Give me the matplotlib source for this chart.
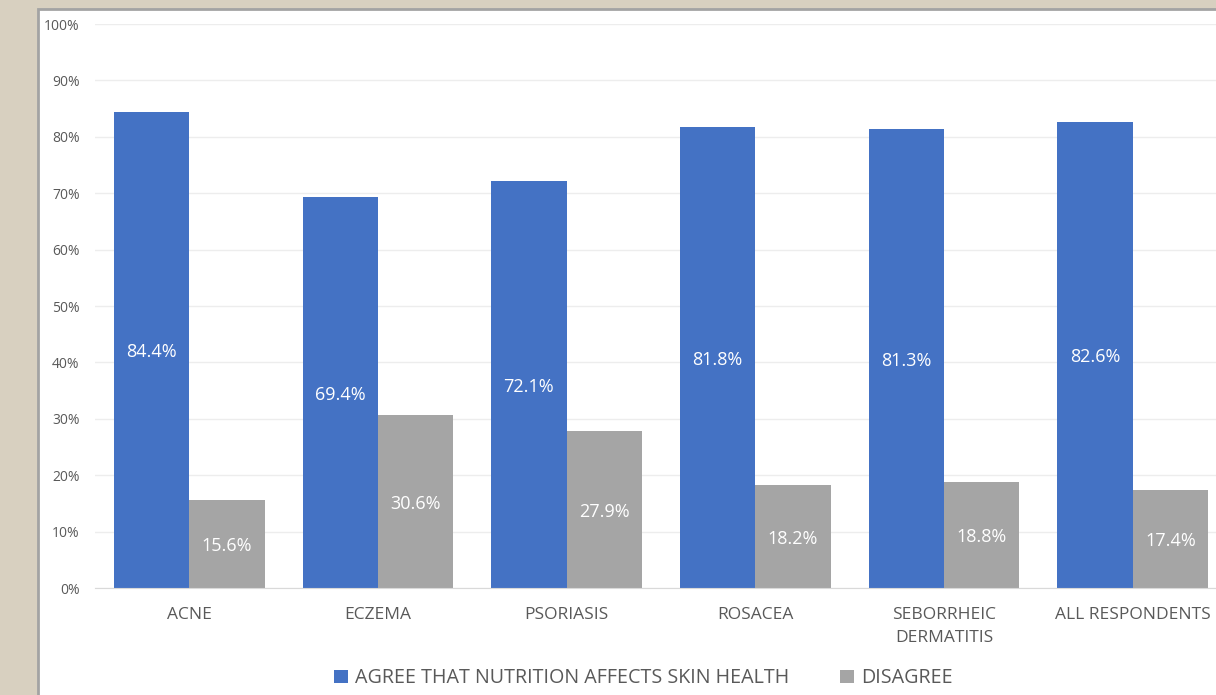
import matplotlib.pyplot as plt
import matplotlib.patches as mpatches
import numpy as np

categories = ["ACNE", "ECZEMA", "PSORIASIS", "ROSACEA", "SEBORRHEIC\nDERMATITIS", "ALL RESPONDENTS"]
agree = [84.4, 69.4, 72.1, 81.8, 81.3, 82.6]
disagree = [15.6, 30.6, 27.9, 18.2, 18.8, 17.4]
series_names = ["AGREE THAT NUTRITION AFFECTS SKIN HEALTH", "DISAGREE"]
yticks = [0, 10, 20, 30, 40, 50, 60, 70, 80, 90, 100]

blue = "#4472C4"
grey = "#A5A5A5"
txt = "#595959"

plt.rcParams['font.family'] = ['Open Sans', 'DejaVu Sans']

fig = plt.figure(figsize=(12.16, 6.95), dpi=100)
fig.patch.set_facecolor("#D8D0C0")

# white panel with grey frame (left and top visible)
panel = mpatches.Rectangle((37.5 / 1216, -0.1), 1.2, 1.1 - 8.5 / 695,
                           transform=fig.transFigure, facecolor="white",
                           edgecolor="#A3A3A3", linewidth=2, zorder=-10)
fig.patches.append(panel)

ax = fig.add_axes([95 / 1216, 107 / 695, 1132 / 1216, 564 / 695])
ax.set_facecolor("none")

x = np.arange(len(categories))
w = 0.4
b1 = ax.bar(x - w / 2, agree, w, color=blue, label=series_names[0], zorder=3)
b2 = ax.bar(x + w / 2, disagree, w, color=grey, label=series_names[1], zorder=3)

for bars, vals in ((b1, agree), (b2, disagree)):
    for r, v in zip(bars, vals):
        ax.text(r.get_x() + r.get_width() / 2, v / 2 - 0.4, f"{v:.1f}%",
                ha="center", va="center", color="white", fontsize=13, zorder=4)

ax.set_xlim(-0.5, len(categories) - 0.5)
ax.set_ylim(0, 100)
ax.set_yticks(yticks)
ax.set_yticklabels([f"{t}%" for t in yticks], color=txt, fontsize=10)
ax.set_xticks(x)
ax.set_xticklabels(categories, color=txt, fontsize=12.5, linespacing=1.55)
ax.tick_params(axis="both", length=0)
ax.tick_params(axis="y", pad=11)
ax.tick_params(axis="x", pad=14)
ax.yaxis.grid(True, color="#EDEDED", linewidth=1, zorder=0)
for s in ["top", "right", "left"]:
    ax.spines[s].set_visible(False)
ax.spines["bottom"].set_color("#D9D9D9")
ax.spines["bottom"].set_zorder(5)

leg = fig.legend(handles=[b1, b2], loc="center", bbox_to_anchor=(0.529, 0.024),
                 ncol=2, frameon=False, fontsize=14.2, handlelength=0.7,
                 handleheight=0.7, handletextpad=0.35, columnspacing=2.6)
for t in leg.get_texts():
    t.set_color(txt)

fig.savefig("out.png", dpi=100, facecolor=fig.get_facecolor())
